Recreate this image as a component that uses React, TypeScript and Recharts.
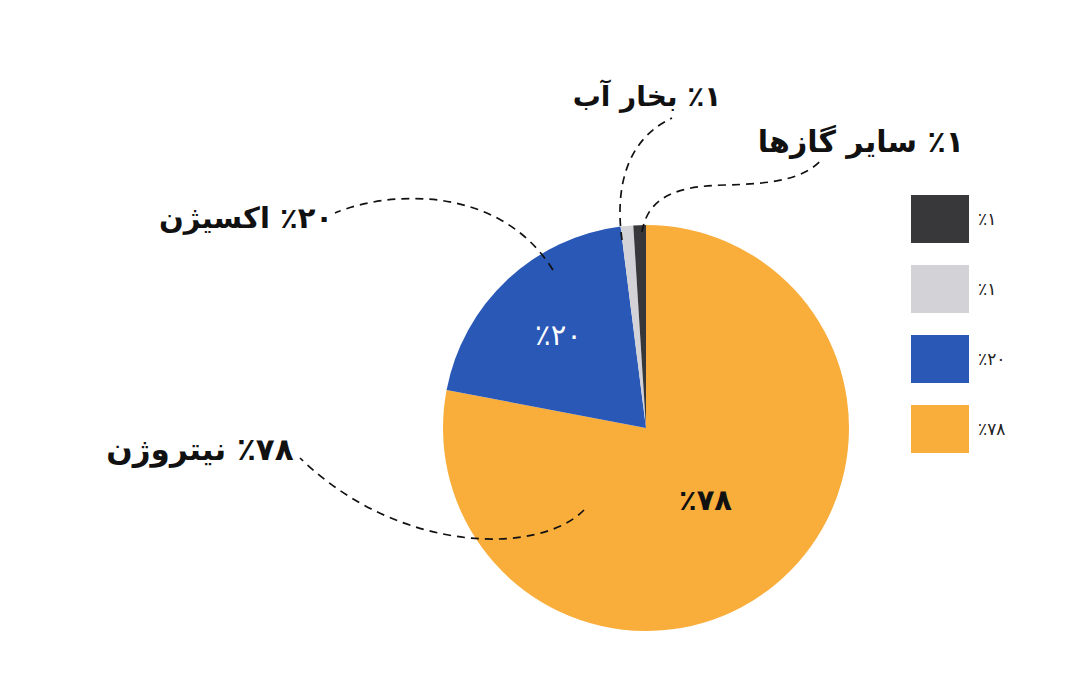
import { PieChart, Pie, Cell, Legend } from 'recharts';

// slices, clockwise from 12 o'clock
const gasNames = ['نیتروژن', 'اکسیژن', 'بخار آب', 'سایر گازها'];
const gasShares = [78, 20, 1, 1];
const gasColors = ['#f9ae3b', '#2a58b6', '#d3d2d7', '#38373a'];
const shareLabels = ['٪۷۸', '٪۲۰', '٪۱', '٪۱'];

const data = gasNames.map((name, i) => ({
  name,
  value: gasShares[i],
  label: shareLabels[i],
}));

const FONT = '"DejaVu Sans", sans-serif';
const RADIAN = Math.PI / 180;

// callout layout, offsets from the pie centre
const callouts = [
  { path: [[-62, 82], [-106, 127], [-246, 127], [-346, 30]], text: [-446, 32], size: 31, inner: 0.46, innerColor: '#111', innerWeight: 700 },
  { path: [[-93, -158], [-146, -243], [-256, -238], [-311, -215]], text: [-400, -200], size: 29, inner: 0.63, innerColor: '#fff', innerWeight: 500 },
  { path: [[-24, -188], [-31, -238], [-21, -288], [26, -310]], text: [1, -322], size: 28 },
  {
    path: [[-4, -196], [2, -233], [34, -242], [79, -243], [124, -244], [159, -248], [177, -270]],
    text: [215, -276],
    size: 30,
  },
];

function SliceLabel(props: any) {
  const { cx, cy, midAngle, outerRadius, index, payload } = props;
  const c = callouts[index];
  const pts = c.path.map(([dx, dy]: number[]) => `${cx + dx} ${cy + dy}`);
  let d = `M ${pts[0]}`;
  for (let i = 1; i < pts.length; i += 3) d += ` C ${pts[i]}, ${pts[i + 1]}, ${pts[i + 2]}`;
  const item = payload?.payload ?? payload;
  const share = item.label;
  const name = item.name;
  let inner = null;
  if (c.inner) {
    const r = outerRadius * c.inner;
    const x = cx + r * Math.cos(-midAngle * RADIAN);
    const y = cy + r * Math.sin(-midAngle * RADIAN);
    inner = (
      <text x={x} y={y} fill={c.innerColor} textAnchor="middle" dominantBaseline="central"
        fontFamily={FONT} fontSize={29} fontWeight={c.innerWeight}>
        {share}
      </text>
    );
  }
  return (
    <g>
      <path d={d} fill="none" stroke="#111" strokeWidth={1.7} strokeDasharray="8 6" />
      <text x={cx + c.text[0]} y={cy + c.text[1]} textAnchor="middle" direction="rtl"
        fill="#111" fontFamily={FONT} fontSize={c.size} fontWeight={700}>
        {`${share} ${name}`}
      </text>
      {inner}
    </g>
  );
}

// legend lists the slices bottom-up: dark, light, blue, orange
function LegendBoxes({ payload }: any) {
  const items = [...(payload ?? [])].sort(
    (a: any, b: any) => gasNames.indexOf(b.value) - gasNames.indexOf(a.value),
  );
  return (
    <div style={{ fontFamily: FONT }}>
      {items.map((entry: any, i: number) => (
        <div key={i} style={{ display: 'flex', alignItems: 'center', height: 48, marginBottom: 22 }}>
          <div style={{ width: 58, height: 48, background: entry.color }} />
          <span style={{ marginLeft: 9, fontSize: 17, color: '#222' }}>
            {shareLabels[gasNames.indexOf(entry.value)]}
          </span>
        </div>
      ))}
    </div>
  );
}

export default function App() {
  return (
    <div style={{ position: 'absolute', left: 0, top: 0, width: 1080, height: 700, background: '#fff' }}>
      <PieChart width={1080} height={700} margin={{ top: 0, right: 0, bottom: 0, left: 0 }}>
        <Pie
          data={data}
          dataKey="value"
          nameKey="name"
          cx={646}
          cy={428}
          outerRadius={203}
          startAngle={90}
          endAngle={-270}
          stroke="none"
          label={SliceLabel}
          labelLine={false}
          isAnimationActive={false}
        >
          {data.map((d, i) => (
            <Cell key={d.name} fill={gasColors[i]} />
          ))}
        </Pie>
        <Legend
          content={<LegendBoxes />}
          wrapperStyle={{ left: 911, top: 195, width: 120 }}
        />
      </PieChart>
    </div>
  );
}
